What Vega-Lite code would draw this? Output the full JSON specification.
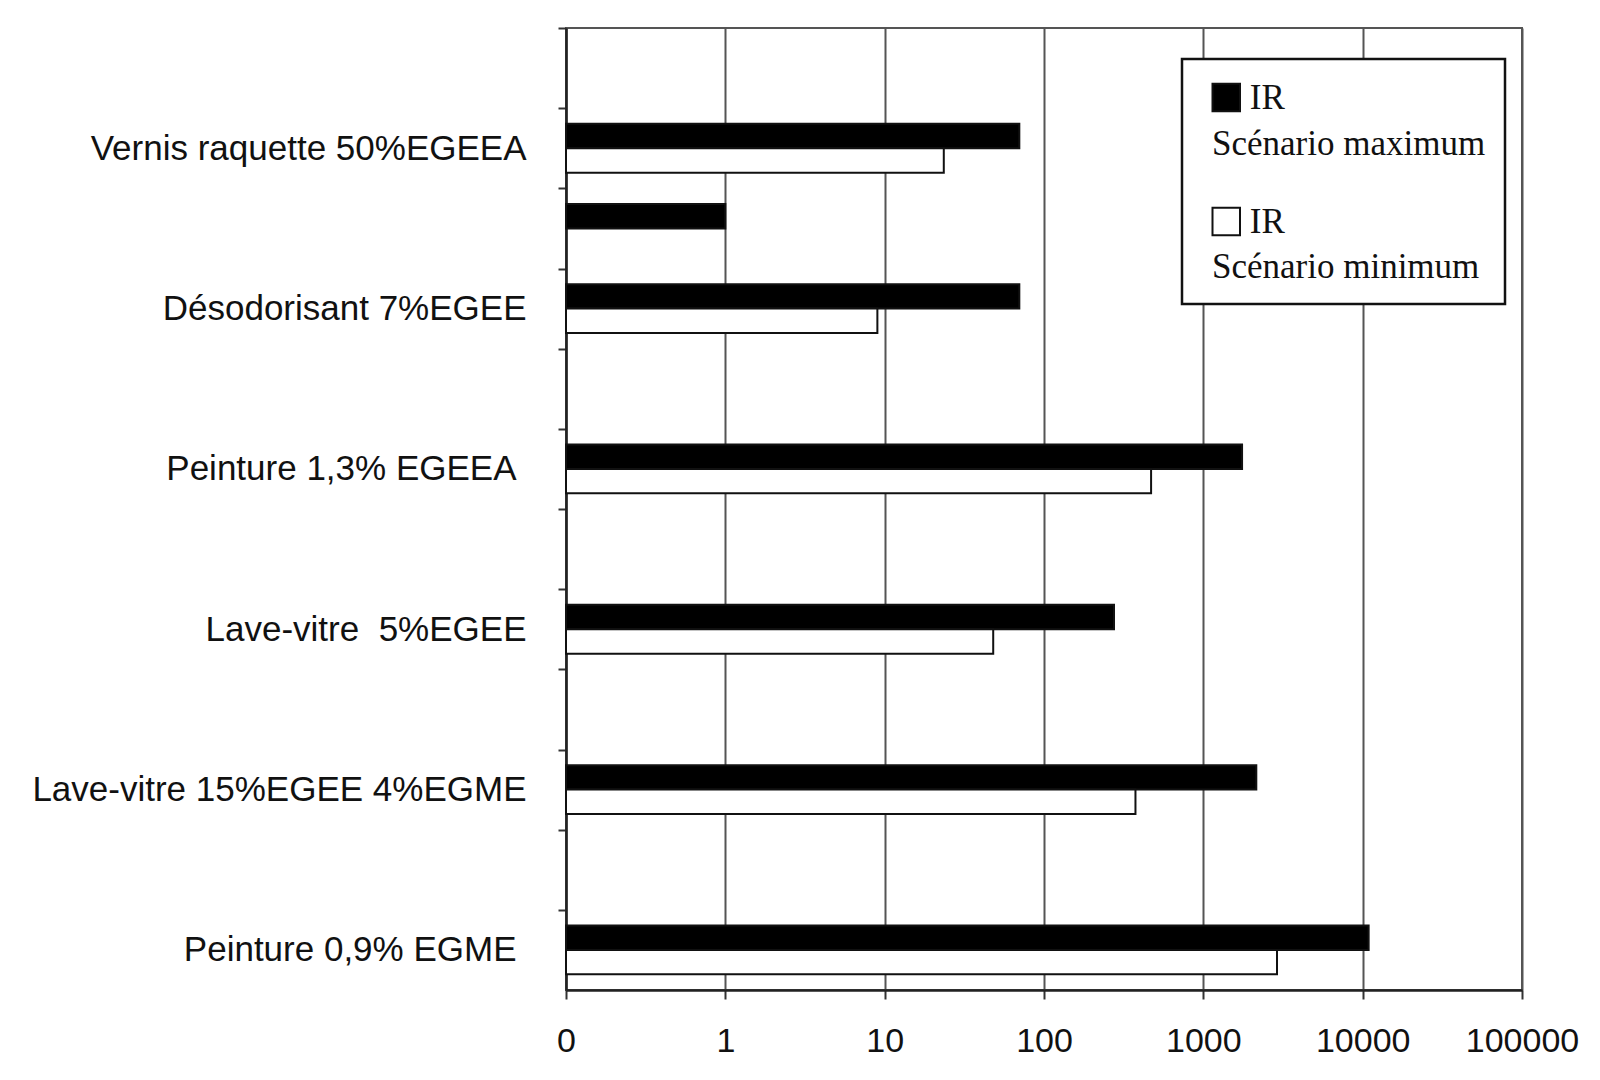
{
  "$schema": "https://vega.github.io/schema/vega-lite/v6.json",
  "autosize": {"type": "none"},
  "padding": {"left": 566, "top": 28, "right": 78, "bottom": 90},
  "width": 956,
  "height": 962,
  "background": "white",
  "data": {
    "values": [
      {"cat": "Vernis raquette 50%EGEEA", "serie": "max", "value": 70},
      {"cat": "Vernis raquette 50%EGEEA", "serie": "min", "value": 23.5},
      {"cat": "_3", "serie": "max", "value": 1},
      {"cat": "Désodorisant 7%EGEE", "serie": "max", "value": 70},
      {"cat": "Désodorisant 7%EGEE", "serie": "min", "value": 9},
      {"cat": "Peinture 1,3% EGEEA", "serie": "max", "value": 1750},
      {"cat": "Peinture 1,3% EGEEA", "serie": "min", "value": 470},
      {"cat": "Lave-vitre  5%EGEE", "serie": "max", "value": 275},
      {"cat": "Lave-vitre  5%EGEE", "serie": "min", "value": 48},
      {"cat": "Lave-vitre 15%EGEE 4%EGME", "serie": "max", "value": 2150},
      {"cat": "Lave-vitre 15%EGEE 4%EGME", "serie": "min", "value": 375},
      {"cat": "Peinture 0,9% EGME", "serie": "max", "value": 10900},
      {"cat": "Peinture 0,9% EGME", "serie": "min", "value": 2900}
    ]
  },
  "mark": {"type": "bar", "stroke": "#111111", "strokeWidth": 2},
  "encoding": {
    "y": {
      "field": "cat",
      "type": "nominal",
      "sort": null,
      "scale": {
        "domain": ["_1", "Vernis raquette 50%EGEEA", "_3", "Désodorisant 7%EGEE", "_5", "Peinture 1,3% EGEEA", "_7", "Lave-vitre  5%EGEE", "_9", "Lave-vitre 15%EGEE 4%EGME", "_11", "Peinture 0,9% EGME"],
        "paddingInner": 0,
        "paddingOuter": 0
      },
      "axis": {
        "title": null,
        "tickOffset": -40.08,
        "labelOffset": 40.08,
        "tickSize": 8,
        "tickColor": "#333333",
        "tickWidth": 2,
        "domainColor": "#222222",
        "domainWidth": 2.5,
        "labelExpr": "indexof(datum.label, '_') == 0 ? '' : replace(datum.label, '  ', '\u00a0\u00a0')",
        "labelFont": "Liberation Sans",
        "labelFontSize": 35,
        "labelColor": "#111111",
        "labelPadding": {"condition": {"test": "indexof(datum.value, 'Peinture') == 0", "value": 42}, "value": 32},
        "labelLimit": 700,
        "grid": false
      }
    },
    "yOffset": {
      "field": "serie",
      "type": "nominal",
      "scale": {"domain": ["max", "min"], "paddingInner": 0, "paddingOuter": 0.64}
    },
    "x": {
      "field": "value",
      "type": "quantitative",
      "scale": {"type": "log", "domain": [0.1, 100000]},
      "axis": {
        "title": null,
        "values": [0.1, 1, 10, 100, 1000, 10000, 100000],
        "labelExpr": "datum.value < 0.5 ? '0' : format(datum.value, 'd')",
        "grid": true,
        "gridColor": "#555555",
        "gridWidth": 2,
        "domainColor": "#222222",
        "domainWidth": 2.5,
        "tickColor": "#333333",
        "tickSize": 9,
        "tickWidth": 2,
        "labelFont": "Liberation Sans",
        "labelFontSize": 34,
        "labelColor": "#111111",
        "labelPadding": 25,
        "labelFlush": false
      }
    },
    "x2": {"datum": 0.1},
    "color": {
      "field": "serie",
      "type": "nominal",
      "scale": {"domain": ["max", "min"], "range": ["#000000", "#ffffff"]},
      "legend": {
        "orient": "none",
        "legendX": 642.75,
        "legendY": 52,
        "zindex": 2,
        "title": null,
        "direction": "vertical",
        "padding": 0,
        "symbolType": "square",
        "symbolSize": 756,
        "symbolStrokeColor": "#111111",
        "symbolStrokeWidth": 2,
        "labelFont": "Liberation Serif",
        "labelFontSize": 35,
        "labelColor": "#111111",
        "labelOffset": 6,
        "labelBaseline": "middle",
        "labelLimit": 500,
        "rowPadding": 87,
        "labelExpr": "'IR'"
      }
    },
    "opacity": {
      "field": "serie",
      "type": "nominal",
      "scale": {"range": [1, 1]},
      "legend": {
        "orient": "none",
        "legendX": 616,
        "legendY": 31,
        "zindex": 1,
        "title": null,
        "direction": "vertical",
        "fillColor": "white",
        "strokeColor": "#111111",
        "padding": 19,
        "symbolType": "square",
        "symbolSize": 0,
        "symbolOpacity": 0,
        "symbolStrokeWidth": 0,
        "labelFont": "Liberation Serif",
        "labelFontSize": 35,
        "labelColor": "#111111",
        "labelOffset": -24,
        "labelBaseline": "middle",
        "labelLimit": 500,
        "rowPadding": 39,
        "labelExpr": "datum.label == 'max' ? ['', 'Scénario maximum'] : ['', 'Scénario minimum']"
      }
    }
  },
  "config": {
    "view": {"stroke": "#555555", "strokeWidth": 2},
    "legend": {"strokeWidth": 2.5},
    "style": {"guide-label": {"lineHeight": 48}}
  }
}
